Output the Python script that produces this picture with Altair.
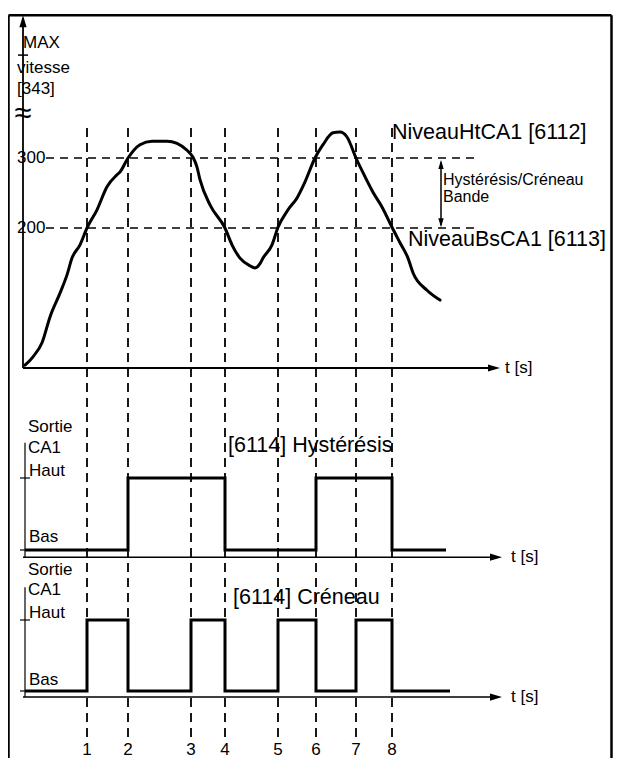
import altair as alt
import pandas as pd

# ---------------- data ----------------
event_labels = ["1", "2", "3", "4", "5", "6", "7", "8"]
event_times = [6.4, 10.5, 16.8, 20.2, 25.5, 29.3, 33.3, 36.9]

speed_t = [0.2, 1.0, 1.9, 2.7, 3.7, 4.4, 4.9, 5.7, 6.4, 7.4, 8.4, 9.4, 9.7, 10.5,
           11.7, 12.9, 14.4, 15.4, 16.4, 17.0, 17.4, 17.7, 18.7, 20.2, 20.9, 21.7,
           22.7, 23.2, 23.7, 24.0, 24.9, 25.5, 26.5, 27.4, 28.2, 29.2, 30.0, 31.0,
           31.7, 32.4, 33.3, 34.0, 35.0, 35.9, 36.9, 37.7, 38.5, 39.0, 40.4, 41.7]
speed_v = [4, 16, 36, 73, 107, 133, 157, 176, 200, 226, 259, 276, 280, 300,
           319, 324, 324, 321, 311, 301, 287, 269, 233, 200, 176, 157,
           146, 143, 149, 157, 176, 201, 226, 243, 266, 300, 319, 336,
           337, 330, 300, 279, 251, 230, 201, 179, 157, 136, 111, 97]

level_high = 300
level_low = 200
level_names = ["300", "200"]

hyst_t = [0.2, 10.5, 20.2, 29.3, 36.9, 42.3]
hyst_state = [0, 1, 0, 1, 0, 0]

cren_t = [0.2, 6.4, 10.5, 16.8, 20.2, 25.5, 29.3, 33.3, 36.9, 42.7]
cren_state = [0, 1, 0, 1, 0, 1, 0, 1, 0, 0]

# ---------------- layout ----------------
W, H = 605, 750
X_DOMAIN = [-1.5, 59.0]
FONT = "Liberation Sans"
BLACK = "#000000"
SMALL = 17
BIG = 21.5


def y_domain(anchor_px, px_per_unit):
    """value 0 sits at anchor_px (from top of chart)"""
    return [-(H - anchor_px) / px_per_unit, anchor_px / px_per_unit]


TOP_DOM = y_domain(360, 0.7)
MID_DOM = y_domain(542, 72)
BOT_DOM = y_domain(683, 71)

UP = "M0,-1L0.6,1L-0.6,1Z"
DOWN = "M0,1L0.6,-1L-0.6,-1Z"
RIGHT = "M1,0L-1,-0.6L-1,0.6Z"


def X(f):
    return alt.X(f, type="quantitative", scale=alt.Scale(domain=X_DOMAIN, nice=False, zero=False), axis=None)


def Y(f, dom):
    return alt.Y(f, type="quantitative", scale=alt.Scale(domain=dom, nice=False, zero=False), axis=None)


def hrule(df, dom, **kw):
    return alt.Chart(df).mark_rule(color=BLACK, **kw).encode(x=X("a"), x2="b", y=Y("y", dom))


def vrule(df, dom, **kw):
    return alt.Chart(df).mark_rule(color=BLACK, **kw).encode(x=X("x"), y=Y("a", dom), y2="b")


def arrow(df, dom, shape, size=144, **kw):
    return alt.Chart(df).mark_point(shape=shape, filled=True, size=size, color=BLACK,
                                    strokeWidth=0, opacity=1, **kw).encode(x=X("x"), y=Y("y", dom))


def texts(df, dom, size, align="left", **kw):
    return alt.Chart(df).mark_text(align=align, baseline="middle", font=FONT, fontSize=size,
                                   color=BLACK, **kw).encode(x=X("x"), y=Y("y", dom), text="s:N")


# ---------------- top panel (speed) ----------------
frame_v = vrule(pd.DataFrame({"x": [-1.45, 58.85], "a": [TOP_DOM[0]] * 2, "b": [504, 504]}), TOP_DOM, strokeWidth=2.5)
frame_h = hrule(pd.DataFrame({"a": [-1.45], "b": [58.85], "y": [504]}), TOP_DOM, strokeWidth=2.5)

yaxis = vrule(pd.DataFrame({"x": [0], "a": [0], "b": [500]}), TOP_DOM, strokeWidth=1.8)
yarrow = arrow(pd.DataFrame({"x": [0], "y": [504]}), TOP_DOM, UP, yOffset=6)
xaxis = hrule(pd.DataFrame({"a": [0], "b": [47.2], "y": [0]}), TOP_DOM, strokeWidth=1.8)
xarrow = arrow(pd.DataFrame({"x": [47.7], "y": [0]}), TOP_DOM, RIGHT, xOffset=-6)
max_tick = hrule(pd.DataFrame({"a": [-0.5], "b": [0.5], "y": [447]}), TOP_DOM, strokeWidth=1.5)

level_lines = hrule(pd.DataFrame({"a": [2.3, 2.3], "b": [45.7, 45.7], "y": [level_high, level_low]}),
                    TOP_DOM, strokeWidth=1.5, strokeDash=[8, 6])
event_lines = vrule(pd.DataFrame({"x": event_times, "a": [-527] * 8, "b": [347] * 8}),
                    TOP_DOM, strokeWidth=1.8, strokeDash=[9, 6])

curve = alt.Chart(pd.DataFrame({"x": speed_t, "y": speed_v})).mark_line(
    color=BLACK, strokeWidth=3, interpolate="monotone", strokeJoin="round", strokeCap="round"
).encode(x=X("x"), y=Y("y", TOP_DOM))

band = vrule(pd.DataFrame({"x": [41.8], "a": [204], "b": [294]}), TOP_DOM, strokeWidth=1.5)
band_up = arrow(pd.DataFrame({"x": [41.8], "y": [297]}), TOP_DOM, UP, size=81, yOffset=4.5)
band_dn = arrow(pd.DataFrame({"x": [41.8], "y": [201]}), TOP_DOM, DOWN, size=81, yOffset=-4.5)

top_text_small = texts(pd.DataFrame({
    "x": [0.0, -0.6, -0.6, -0.6, -0.6, 48.2],
    "y": [464, 429, 399, level_high, level_low, 0],
    "s": ["MAX", "vitesse", "[343]", level_names[0], level_names[1], "t [s]"],
}), TOP_DOM, SMALL)
band_text = texts(pd.DataFrame({
    "x": [42.0, 42.0], "y": [268, 244], "s": ["Hystérésis/Créneau", "Bande"],
}), TOP_DOM, 16)
top_text_big = texts(pd.DataFrame({
    "x": [36.9, 38.5], "y": [336, 183], "s": ["NiveauHtCA1 [6112]", "NiveauBsCA1 [6113]"],
}), TOP_DOM, BIG)
squiggle = texts(pd.DataFrame({"x": [0.0], "y": [363], "s": ["≈"]}), TOP_DOM, 31, align="center")

top = alt.layer(frame_v, frame_h, event_lines, level_lines, yaxis, yarrow, xaxis, xarrow, max_tick,
                curve, band, band_up, band_dn, top_text_small, band_text, top_text_big, squiggle)


# ---------------- output panels ----------------
def output_panel(dom, ts, states, axis_y, axis_top, title, title_x, title_y, label_y, numbers=False):
    ax_h = hrule(pd.DataFrame({"a": [0], "b": [47.4], "y": [axis_y]}), dom, strokeWidth=1.5)
    ax_arr = arrow(pd.DataFrame({"x": [47.9], "y": [axis_y]}), dom, RIGHT, xOffset=-6)
    ax_v = vrule(pd.DataFrame({"x": [0.2], "a": [axis_y], "b": [axis_top]}), dom, strokeWidth=1.2)
    ticks = hrule(pd.DataFrame({"a": [-0.3, -0.3], "b": [0.7, 0.5], "y": [1, 0]}), dom, strokeWidth=1.2)
    pulse = alt.Chart(pd.DataFrame({"x": ts, "y": states})).mark_line(
        color=BLACK, strokeWidth=3, interpolate="step-after", strokeJoin="miter"
    ).encode(x=X("x"), y=Y("y", dom))
    labels = texts(pd.DataFrame({
        "x": [0.5, 0.5, 0.6, 0.6, 48.8],
        "y": label_y + [axis_y],
        "s": ["Sortie", "CA1", "Haut", "Bas", "t [s]"],
    }), dom, SMALL)
    ttl = texts(pd.DataFrame({"x": [title_x], "y": [title_y], "s": [title]}), dom, BIG)
    layers = [ax_h, ax_arr, ax_v, ticks, pulse, labels, ttl]
    if numbers:
        layers.append(texts(pd.DataFrame({"x": event_times, "y": [-0.83] * 8, "s": event_labels}),
                            dom, SMALL, align="center"))
    return alt.layer(*layers)


mid = output_panel(MID_DOM, hyst_t, hyst_state, -0.1, 1.49, "[6114] Hystérésis", 20.5, 1.44,
                   [1.71, 1.42, 1.10, 0.18])
bot = output_panel(BOT_DOM, cren_t, cren_state, -0.085, 1.46, "[6114] Créneau", 21.0, 1.31,
                   [1.70, 1.42, 1.10, 0.155], numbers=True)

chart = alt.layer(top, mid, bot).resolve_scale(y="independent").properties(
    width=W, height=H, padding=0, autosize="none", background="white"
).configure_view(stroke=None)

chart.save("out.html", embed_options={"renderer": "svg", "actions": False})
